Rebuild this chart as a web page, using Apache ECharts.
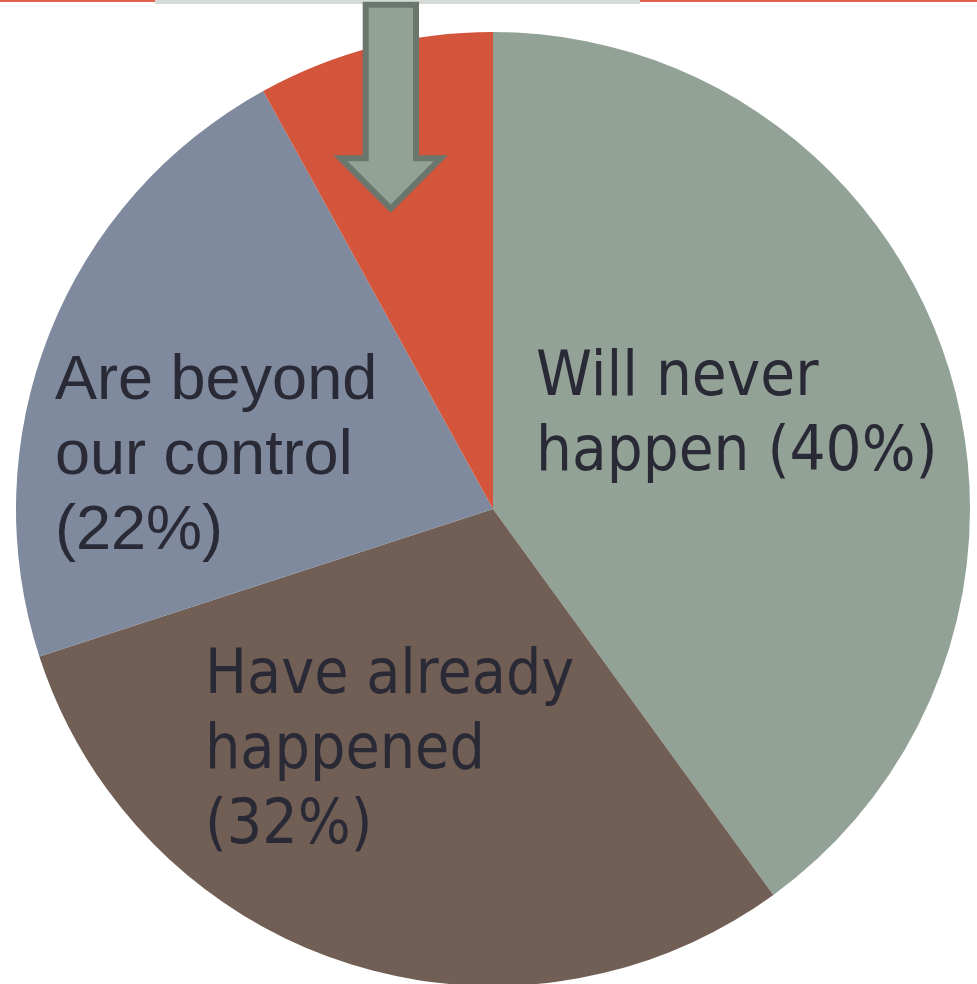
<!DOCTYPE html>
<html>
<head>
<meta charset="utf-8">
<script src="https://cdn.jsdelivr.net/npm/echarts@6/dist/echarts.min.js"></script>
<style>
html,body{margin:0;padding:0;background:#fff;}
#chart{width:977px;height:984px;}
</style>
</head>
<body>
<div id="chart"></div>
<script>
var categories = ['Will never happen', 'Have already happened', 'Are beyond our control', 'Other'];
var values = [40, 30, 22, 8];
var labelTexts = ['Will never\nhappen (40%)', 'Have already\nhappened\n(32%)', 'Are beyond\nour control\n(22%)', ''];
var colors = ['#93a296', '#715f55', '#7f8a9e', '#d2553c'];

var labelFonts = ["'DejaVu Sans Condensed', 'DejaVu Sans'", "'DejaVu Sans Condensed', 'DejaVu Sans'", "'Liberation Sans', Arial, sans-serif", "'Liberation Sans'"];
var labelSizes = [63, 62, 63, 10];
var labelPos = [[536, 341], [205, 639], [55, 344], [0, 0]];

var chart = echarts.init(document.getElementById('chart'), null, {renderer: 'canvas'});

var data = categories.map(function (c, i) {
  return {
    name: c,
    value: values[i],
    itemStyle: {color: colors[i]},
    label: {
      show: labelTexts[i] !== '',
      formatter: labelTexts[i],
      fontFamily: labelFonts[i],
      fontSize: labelSizes[i],
      lineHeight: 75
    }
  };
});

chart.setOption({
  backgroundColor: '#ffffff',
  animation: false,
  series: [{
    type: 'pie',
    center: [493, 509],
    radius: [0, 477],
    startAngle: 90,
    clockwise: true,
    silent: true,
    data: data,
    itemStyle: {borderWidth: 0},
    label: {
      position: 'inside',
      color: '#2a2a36',
      align: 'left'
    },
    labelLine: {show: false},
    labelLayout: function (p) {
      var pos = labelPos[p.dataIndex];
      return {x: pos[0], y: pos[1], align: 'left', verticalAlign: 'top'};
    }
  }],
  graphic: [
    {type: 'rect', shape: {x: 0, y: 0, width: 155, height: 2}, style: {fill: '#e0644d'}, z: 10},
    {type: 'rect', shape: {x: 640, y: 0, width: 337, height: 2}, style: {fill: '#e0644d'}, z: 10},
    {type: 'rect', shape: {x: 155, y: 0, width: 485, height: 4}, style: {fill: '#d5dcd7'}, z: 10},
    {
      type: 'polygon',
      shape: {points: [[365.7, 4.7], [416, 4.7], [416, 158.3], [440.8, 158.3], [390.7, 208.5], [340.5, 158.3], [365.7, 158.3]]},
      style: {fill: '#93a296', stroke: '#6b776d', lineWidth: 6, lineJoin: 'miter', miterLimit: 10},
      z: 20
    }
  ]
});
</script>
</body>
</html>
